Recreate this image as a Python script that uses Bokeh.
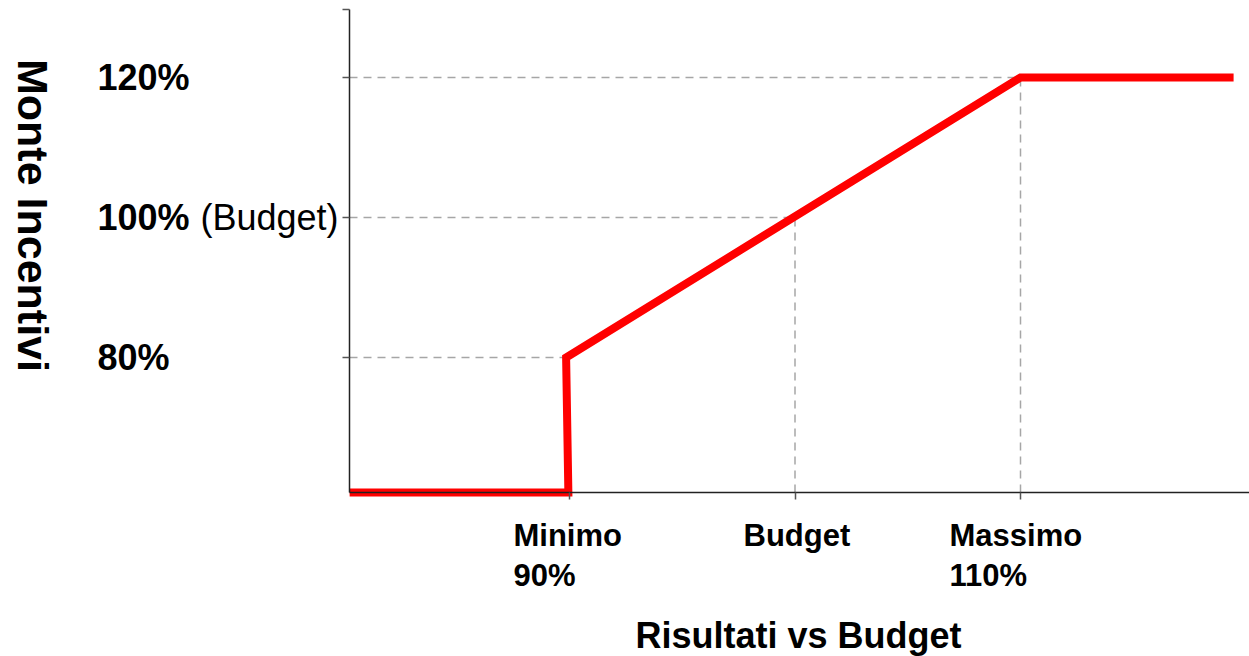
import math
from bokeh.plotting import figure
from bokeh.models import Range1d, FixedTicker, Label
from bokeh.embed import file_html
from bokeh.resources import INLINE

# ---------------- data ----------------
result_pct = [80.25, 89.95, 89.85, 110.0, 119.45]     # x: results vs budget (%)
incentive_pct = [60.71, 60.71, 80.0, 120.0, 120.0]    # y: incentive pool (%)
x_ticks = [90, 100, 110]
x_tick_line1 = ["Minimo", "Budget", "Massimo"]
x_tick_line2 = ["90%", "", "110%"]
y_ticks = [80, 100, 120]
y_tick_labels = ["80%", "100%", "120%"]
y_tick_notes = ["", "(Budget)", ""]
guide_h_x_end = [89.85, 100, 110]
guide_h_y = [80, 100, 120]
guide_v_x = [100, 110]
guide_v_y_end = [100, 120]
base_level = 60.71
axis_x_start = 80.244
axis_y_top = 129.714
x_title = "Risultati vs Budget"
y_title = "Monte Incentivi"

# ---------------- layout ----------------
W, H = 1249, 656
SX, SY = 22.55, 7.0            # pixels per data unit
X0 = 90 - 569 / SX
X1 = X0 + W / SX
Y1 = 120 + 77 / SY
Y0 = Y1 - H / SY


def dx(px):  # canvas pixel -> data x
    return X0 + px / SX


def dy(py):  # canvas pixel -> data y
    return Y1 - py / SY


FONT = "Liberation Sans"

p = figure(width=W, height=H, x_range=Range1d(X0, X1), y_range=Range1d(Y0, Y1),
           output_backend="svg", toolbar_location=None, title=None,
           min_border=0, min_border_left=0, min_border_right=0,
           min_border_top=0, min_border_bottom=0)
p.outline_line_color = None
p.grid.visible = False
p.background_fill_color = "white"
p.border_fill_color = "white"

# axes drawn inside the frame at fixed positions
for ax in (p.xaxis[0], p.yaxis[0]):
    ax.axis_line_color = "#222222"
    ax.axis_line_width = 1.5
    ax.major_tick_line_color = "#555555"
    ax.major_tick_line_width = 1.5
    ax.major_tick_in = 0
    ax.major_tick_out = 7
    ax.minor_tick_line_color = None
    ax.major_label_text_color = None
    ax.major_label_text_font_size = "1px"

p.xaxis.ticker = FixedTicker(ticks=x_ticks)
p.xaxis.major_label_overrides = {t: "" for t in x_ticks}
p.xaxis.fixed_location = base_level
p.xaxis.bounds = (axis_x_start, X1)
yt = y_ticks + [axis_y_top]
p.yaxis.ticker = FixedTicker(ticks=yt)
p.yaxis.major_label_overrides = {t: "" for t in yt}
p.yaxis.fixed_location = axis_x_start
p.yaxis.bounds = (base_level, axis_y_top)

# dashed guides
p.segment(x0=[axis_x_start] * len(guide_h_y), y0=guide_h_y, x1=guide_h_x_end, y1=guide_h_y,
          line_color="#a6a6a6", line_width=1.5, line_dash="8 6")
p.segment(x0=guide_v_x, y0=[base_level] * len(guide_v_x), x1=guide_v_x, y1=guide_v_y_end,
          line_color="#a6a6a6", line_width=1.5, line_dash="8 6")

# red curve
p.line(result_pct, incentive_pct, line_color="#ff0000", line_width=8, line_join="miter")

# y tick labels
for t, lab, note in zip(y_ticks, y_tick_labels, y_tick_notes):
    p.add_layout(Label(x=dx(97), y=t, text=lab, text_font=FONT, text_font_size="36px",
                       text_font_style="bold", text_align="left", text_baseline="middle",
                       text_color="black"))
    if note:
        p.add_layout(Label(x=dx(200), y=t, text=note, text_font=FONT, text_font_size="36px",
                           text_font_style="normal", text_align="left", text_baseline="middle",
                           text_color="black"))

# x tick labels
x_left_px = [513, 743, 949]
for lp, l1, l2 in zip(x_left_px, x_tick_line1, x_tick_line2):
    p.add_layout(Label(x=dx(lp), y=dy(535), text=l1, text_font=FONT, text_font_size="31px",
                       text_font_style="bold", text_align="left", text_baseline="middle",
                       text_color="black"))
    if l2:
        p.add_layout(Label(x=dx(lp), y=dy(575), text=l2, text_font=FONT, text_font_size="31px",
                           text_font_style="bold", text_align="left", text_baseline="middle",
                           text_color="black"))

# axis titles
p.add_layout(Label(x=dx(798), y=dy(635), text=x_title, text_font=FONT, text_font_size="36px",
                   text_font_style="bold", text_align="center", text_baseline="middle",
                   text_color="black"))
p.add_layout(Label(x=dx(32), y=dy(215), text=y_title, text_font=FONT, text_font_size="43px",
                   text_font_style="bold", text_align="center", text_baseline="middle",
                   angle=-math.pi / 2, text_color="black"))

open("out.html", "w").write(file_html(p, INLINE))
